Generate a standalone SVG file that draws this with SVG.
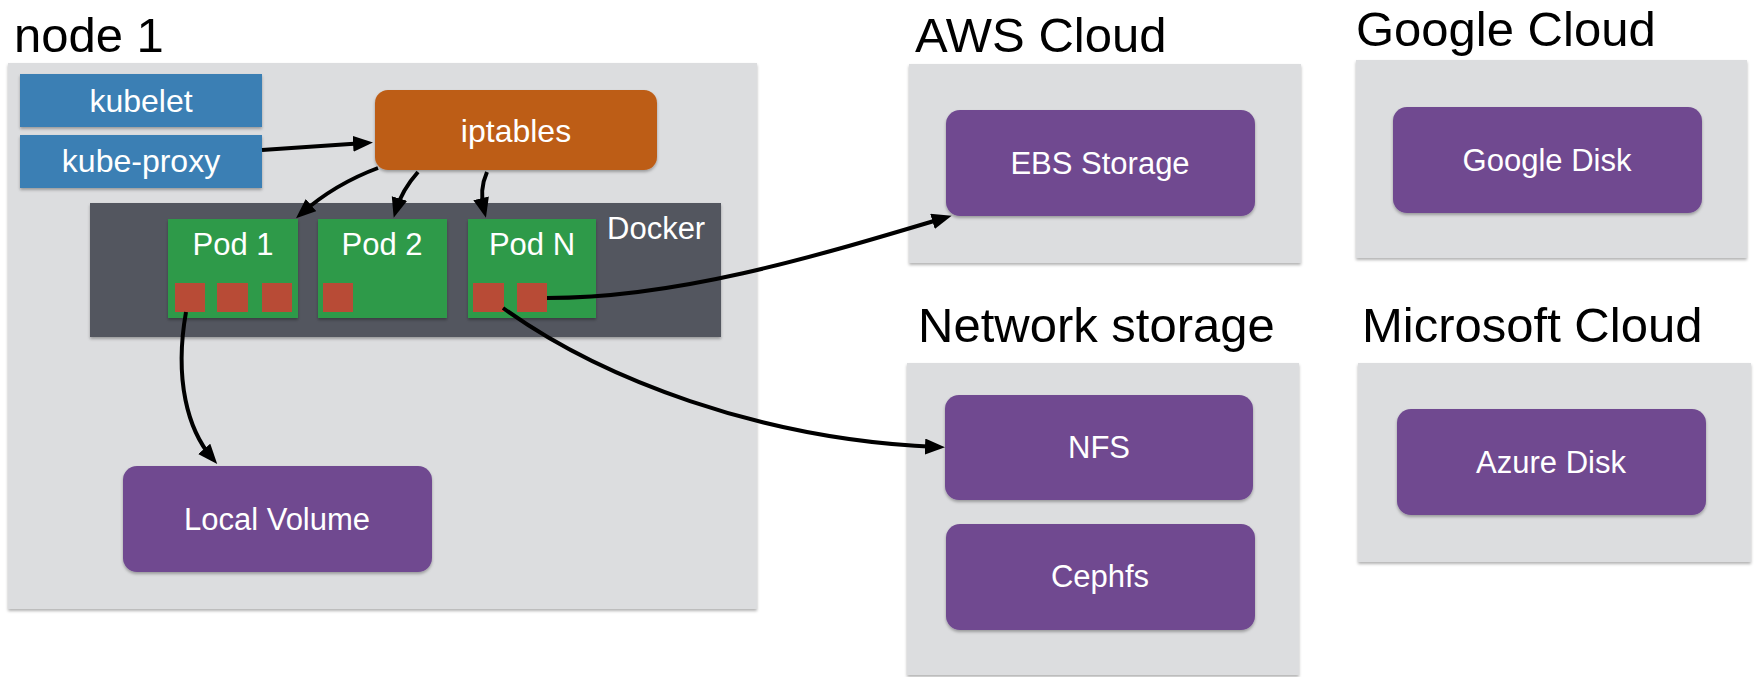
<svg xmlns="http://www.w3.org/2000/svg" width="1757" height="677" viewBox="0 0 1757 677">
<style>
text{font-family:"Liberation Sans",Arial,sans-serif}
.title{font-size:49px;fill:#000}
.lbl{font-size:31px;fill:#fff;text-anchor:middle}
.panel{fill:#dcdddf}
.blue{fill:#3b7fb4}
.orange{fill:#bd5d17}
.docker{fill:#53575e}
.pod{fill:#2f9a48}
.vol{fill:#b84b36}
.purple{fill:#704a90}
.conn{fill:none;stroke:#000;stroke-width:4;marker-end:url(#arr)}
</style>
<defs>
<filter id="sh" x="-5%" y="-5%" width="110%" height="115%">
<feDropShadow dx="0" dy="2" stdDeviation="1.5" flood-color="#000" flood-opacity="0.3"/>
</filter>
<marker id="arr" markerUnits="userSpaceOnUse" markerWidth="22" markerHeight="18" refX="12" refY="8" orient="auto">
<path d="M0,0 L20,8 L0,16 z" fill="#000"/>
</marker>
</defs>
<rect width="1757" height="677" fill="#fff"/>

<g id="node1">
<text class="title" x="14" y="52">node 1</text>
<rect class="panel" x="8" y="63" width="749" height="546" filter="url(#sh)"/>
</g>
<g id="kubelet">
<rect class="blue" x="20" y="74" width="242" height="53" filter="url(#sh)"/>
<text class="lbl" x="141" y="112" style="font-size:32px">kubelet</text>
</g>
<g id="kube-proxy">
<rect class="blue" x="20" y="135" width="242" height="53" filter="url(#sh)"/>
<text class="lbl" x="141" y="172" style="font-size:32px">kube-proxy</text>
</g>
<g id="iptables">
<rect class="orange" x="375" y="90" width="282" height="80" rx="13" filter="url(#sh)"/>
<text class="lbl" x="516" y="142" style="font-size:32px">iptables</text>
</g>
<g id="docker">
<rect class="docker" x="90" y="203" width="631" height="134" filter="url(#sh)"/>
<text x="607" y="239" style="font-size:31px;fill:#fff">Docker</text>
</g>
<g id="pod1">
<rect class="pod" x="168" y="219" width="130" height="99" filter="url(#sh)"/>
<text class="lbl" x="233" y="255">Pod 1</text>
<rect class="vol" x="175" y="283" width="30" height="29"/>
<rect class="vol" x="217" y="283" width="31" height="29"/>
<rect class="vol" x="262" y="283" width="30" height="29"/>
</g>
<g id="pod2">
<rect class="pod" x="318" y="219" width="129" height="99" filter="url(#sh)"/>
<text class="lbl" x="382" y="255">Pod 2</text>
<rect class="vol" x="323" y="283" width="30" height="29"/>
</g>
<g id="podN">
<rect class="pod" x="468" y="219" width="128" height="99" filter="url(#sh)"/>
<text class="lbl" x="532" y="255">Pod N</text>
<rect class="vol" x="473" y="283" width="31" height="29"/>
<rect class="vol" x="517" y="283" width="30" height="29"/>
</g>
<g id="local-volume">
<rect class="purple" x="123" y="466" width="309" height="106" rx="14" filter="url(#sh)"/>
<text class="lbl" x="277" y="530">Local Volume</text>
</g>

<g id="aws-cloud">
<text class="title" x="915" y="52">AWS Cloud</text>
<rect class="panel" x="909" y="64" width="392" height="199" filter="url(#sh)"/>
</g>
<g id="ebs-storage">
<rect class="purple" x="946" y="110" width="309" height="106" rx="14" filter="url(#sh)"/>
<text class="lbl" x="1100" y="174">EBS Storage</text>
</g>
<g id="google-cloud">
<text class="title" x="1356" y="46">Google Cloud</text>
<rect class="panel" x="1356" y="60" width="391" height="198" filter="url(#sh)"/>
</g>
<g id="google-disk">
<rect class="purple" x="1393" y="107" width="309" height="106" rx="14" filter="url(#sh)"/>
<text class="lbl" x="1547" y="171">Google Disk</text>
</g>
<g id="network-storage">
<text class="title" x="918" y="342">Network storage</text>
<rect class="panel" x="907" y="363" width="392" height="312" filter="url(#sh)"/>
</g>
<g id="nfs">
<rect class="purple" x="945" y="395" width="308" height="105" rx="14" filter="url(#sh)"/>
<text class="lbl" x="1099" y="458">NFS</text>
</g>
<g id="cephfs">
<rect class="purple" x="946" y="524" width="309" height="106" rx="14" filter="url(#sh)"/>
<text class="lbl" x="1100" y="587">Cephfs</text>
</g>
<g id="microsoft-cloud">
<text class="title" x="1362" y="342">Microsoft Cloud</text>
<rect class="panel" x="1358" y="363" width="393" height="199" filter="url(#sh)"/>
</g>
<g id="azure-disk">
<rect class="purple" x="1397" y="409" width="309" height="106" rx="14" filter="url(#sh)"/>
<text class="lbl" x="1551" y="473">Azure Disk</text>
</g>

<g id="connectors">
<path class="conn" d="M262,150 L365,143"/>
<path class="conn" d="M378,168 Q335,184 302,213"/>
<path class="conn" d="M418,172 Q402,190 396,210"/>
<path class="conn" d="M487,172 Q479,190 484,210"/>
<path class="conn" d="M186,312 C174,380 188,430 212,458"/>
<path class="conn" d="M547,298 C680,298 820,255 944,218"/>
<path class="conn" d="M503,308 C600,378 760,440 937,447"/>
</g>
</svg>
